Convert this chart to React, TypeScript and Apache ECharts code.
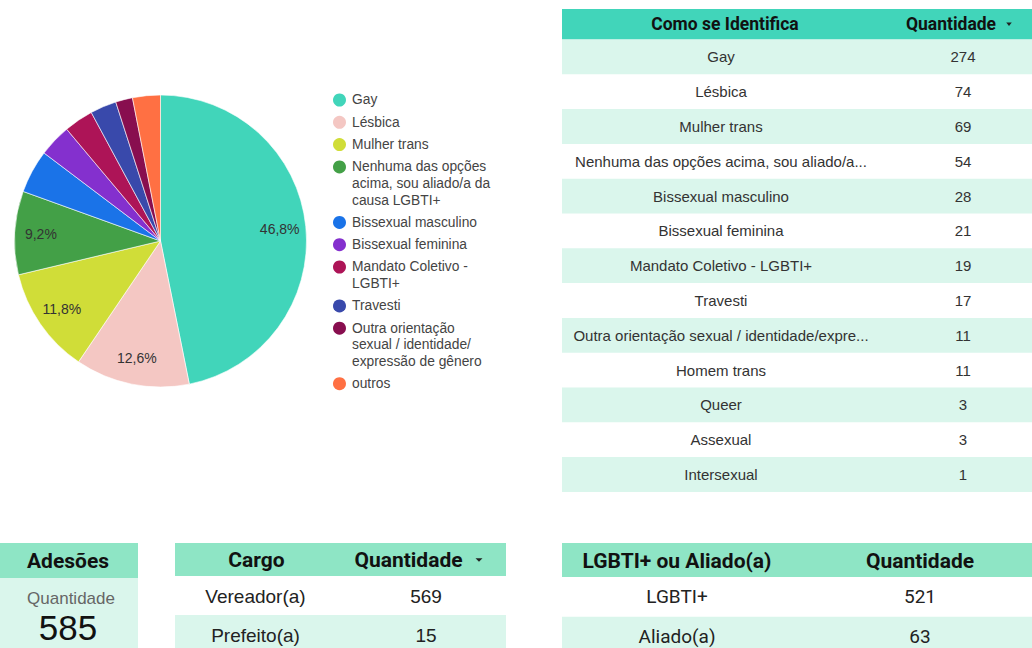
import React, { useEffect, useRef } from 'react';
import * as echarts from 'echarts';

// ---------- DATA ----------
const identityCategories = [
  'Gay',
  'Lésbica',
  'Mulher trans',
  'Nenhuma das opções acima, sou aliado/a da causa LGBTI+',
  'Bissexual masculino',
  'Bissexual feminina',
  'Mandato Coletivo - LGBTI+',
  'Travesti',
  'Outra orientação sexual / identidade/expressão de gênero',
  'Homem trans',
  'Queer',
  'Assexual',
  'Intersexual',
];
const identityCounts = [274, 74, 69, 54, 28, 21, 19, 17, 11, 11, 3, 3, 1];
const pieSliceCount = 9; // the remaining categories are grouped as "outros"
const otherName = 'outros';
const pieColors = [
  '#41d5ba', '#f4c7c3', '#d0dd38', '#43a047', '#1a73e8',
  '#8430ce', '#ad1457', '#3949ab', '#880e4f', '#ff7043',
];
const legendLabels = [
  'Gay',
  'Lésbica',
  'Mulher trans',
  'Nenhuma das opções\nacima, sou aliado/a da\ncausa LGBTI+',
  'Bissexual masculino',
  'Bissexual feminina',
  'Mandato Coletivo -\nLGBTI+',
  'Travesti',
  'Outra orientação\nsexual / identidade/\nexpressão de gênero',
  'outros',
];

const cargoCategories = ['Vereador(a)', 'Prefeito(a)'];
const cargoCounts = [569, 15];
const groupCategories = ['LGBTI+', 'Aliado(a)'];
const groupCounts = [521, 63];

const headerIdentity = ['Como se Identifica', 'Quantidade'];
const headerCargo = ['Cargo', 'Quantidade'];
const headerGroup = ['LGBTI+ ou Aliado(a)', 'Quantidade'];
const scoreTitle = 'Adesões';
const scoreLabel = 'Quantidade';

// ---------- STYLE ----------
const TEAL = '#41d5ba';
const MINT = '#8ee5c5';
const LIGHT = '#daf6ec';
const SANS = '"Liberation Sans", Arial, sans-serif';
const ROBOTO = 'Roboto, "Liberation Sans", sans-serif';

function rect(x: number, y: number, w: number, h: number, fill: string) {
  return { type: 'rect', silent: true, shape: { x, y, width: w, height: h }, style: { fill } };
}
function txt(text: string, x: number, y: number, font: string, fill: string, extra: any = {}) {
  return {
    type: 'text',
    silent: true,
    x,
    y,
    style: {
      text,
      font,
      fill,
      align: 'center',
      verticalAlign: 'middle',
      textAlign: 'center',
      textVerticalAlign: 'middle',
      ...extra,
    },
  };
}
function arrow(cx: number, cy: number, w: number, h: number) {
  return {
    type: 'polygon',
    silent: true,
    shape: { points: [[cx - w / 2, cy - h / 2], [cx + w / 2, cy - h / 2], [cx, cy + h / 2]] },
    style: { fill: '#222' },
  };
}

export default function App() {
  const ref = useRef<HTMLDivElement>(null);

  useEffect(() => {
    document.body.style.margin = '0';
    if (!ref.current) return;
    const chart = echarts.init(ref.current, undefined, { renderer: 'svg' });

    const total = identityCounts.reduce((a, b) => a + b, 0);
    const pieData = identityCategories.slice(0, pieSliceCount).map((name, i) => ({
      name,
      value: identityCounts[i],
    }));
    pieData.push({
      name: otherName,
      value: identityCounts.slice(pieSliceCount).reduce((a, b) => a + b, 0),
    });

    const graphics: any[] = [];

    // ----- Legend -----
    let ly = 100;
    pieData.forEach((d, i) => {
      const label = legendLabels[i];
      const lines = label.split('\n').length;
      graphics.push({
        type: 'circle',
        silent: true,
        shape: { cx: 339.5, cy: ly, r: 6.5 },
        style: { fill: pieColors[i] },
      });
      graphics.push({
        type: 'text',
        silent: true,
        x: 352,
        y: ly - 8.3,
        style: {
          text: label,
          font: `13.8px ${SANS}`,
          fill: '#444',
          lineHeight: 16.6,
          align: 'left',
          verticalAlign: 'top',
          textAlign: 'left',
          textVerticalAlign: 'top',
        },
      });
      ly += (lines - 1) * 16.6 + 22.3;
    });

    // ----- Main table -----
    const mx = 562, my = 9, mw = 480, mHead = 30.5, mRow = 34.8;
    graphics.push(rect(mx, my, mw, mHead, TEAL));
    graphics.push(txt(headerIdentity[0], 725, my + mHead / 2, `bold 17.5px ${ROBOTO}`, '#111'));
    graphics.push(txt(headerIdentity[1], 951, my + mHead / 2, `bold 17.5px ${ROBOTO}`, '#111'));
    graphics.push(arrow(1009, my + mHead / 2, 5.5, 3.5));
    identityCategories.forEach((name, i) => {
      const y0 = my + mHead + i * mRow;
      if (i % 2 === 0) graphics.push(rect(mx, y0, mw, mRow, LIGHT));
      graphics.push(
        txt(name, 721, y0 + mRow / 2, `15px ${SANS}`, '#333', {
          width: 306,
          overflow: 'truncate',
          ellipsis: '...',
        })
      );
      graphics.push(txt(String(identityCounts[i]), 963, y0 + mRow / 2, `15px ${SANS}`, '#333'));
    });

    // ----- Scorecard -----
    graphics.push(rect(0, 543, 138, 35, MINT));
    graphics.push(rect(0, 578, 138, 70, LIGHT));
    graphics.push(txt(scoreTitle, 68, 561, `bold 21px ${ROBOTO}`, '#111'));
    graphics.push(txt(scoreLabel, 71, 598, `17px ${SANS}`, '#666'));
    graphics.push(txt(String(total), 68, 627, `35px ${SANS}`, '#111'));

    // ----- Cargo table -----
    const cx0 = 175, cw = 331, cHeadY = 543, cHead = 33, cRow = 39;
    graphics.push(rect(cx0, cHeadY, cw, cHead, MINT));
    graphics.push(txt(headerCargo[0], 256.5, cHeadY + 17, `bold 21px ${ROBOTO}`, '#111'));
    graphics.push(txt(headerCargo[1], 408.5, cHeadY + 17, `bold 21px ${ROBOTO}`, '#111'));
    graphics.push(arrow(479, cHeadY + 17, 7, 3.6));
    cargoCategories.forEach((name, i) => {
      const y0 = cHeadY + cHead + i * cRow;
      if (i % 2 === 1) graphics.push(rect(cx0, y0, cw, cRow, LIGHT));
      graphics.push(txt(name, 255.5, y0 + cRow / 2 + 0.5, `19px ${SANS}`, '#222'));
      graphics.push(txt(String(cargoCounts[i]), 426, y0 + cRow / 2 + 0.5, `19px ${SANS}`, '#222'));
    });

    // ----- LGBTI+ ou Aliado table -----
    const gx0 = 562, gw = 480, gHeadY = 543, gHead = 34, gRow = 39.7;
    graphics.push(rect(gx0, gHeadY, gw, gHead, MINT));
    graphics.push(txt(headerGroup[0], 677, gHeadY + 18, `bold 21px ${ROBOTO}`, '#111'));
    graphics.push(txt(headerGroup[1], 920, gHeadY + 18, `bold 21px ${ROBOTO}`, '#111'));
    groupCategories.forEach((name, i) => {
      const y0 = gHeadY + gHead + i * gRow;
      if (i % 2 === 1) graphics.push(rect(gx0, y0, gw, gRow + 10, LIGHT));
      graphics.push(txt(name, 677, y0 + gRow / 2, `19px ${ROBOTO}`, '#222'));
      graphics.push(txt(String(groupCounts[i]), 920, y0 + gRow / 2, `19px ${ROBOTO}`, '#222'));
    });

    const center = [160.5, 241];
    const R = 146;

    chart.setOption({
      animation: false,
      color: pieColors,
      series: [
        {
          type: 'pie',
          name: 'Como se Identifica',
          center,
          radius: [0, R],
          startAngle: 90,
          clockwise: true,
          silent: true,
          data: pieData,
          label: { show: false },
          labelLine: { show: false },
          itemStyle: { borderColor: '#ffffff', borderWidth: 0.6 },
        },
        {
          type: 'pie',
          name: 'labels',
          center,
          radius: [R * 0.6, R],
          startAngle: 90,
          clockwise: true,
          silent: true,
          data: pieData,
          itemStyle: { color: 'rgba(0,0,0,0)', borderWidth: 0 },
          labelLine: { show: false },
          label: {
            show: true,
            position: 'inside',
            color: '#333',
            fontSize: 14,
            fontFamily: SANS,
            formatter: (p: any) => {
              const pct = (p.value / total) * 100;
              return pct >= 5 ? pct.toFixed(1).replace('.', ',') + '%' : '';
            },
          },
        },
      ],
      graphic: graphics,
    });

    return () => chart.dispose();
  }, []);

  return (
    <div
      ref={ref}
      style={{ position: 'absolute', left: 0, top: 0, width: 1032, height: 648, background: '#fff' }}
    />
  );
}
